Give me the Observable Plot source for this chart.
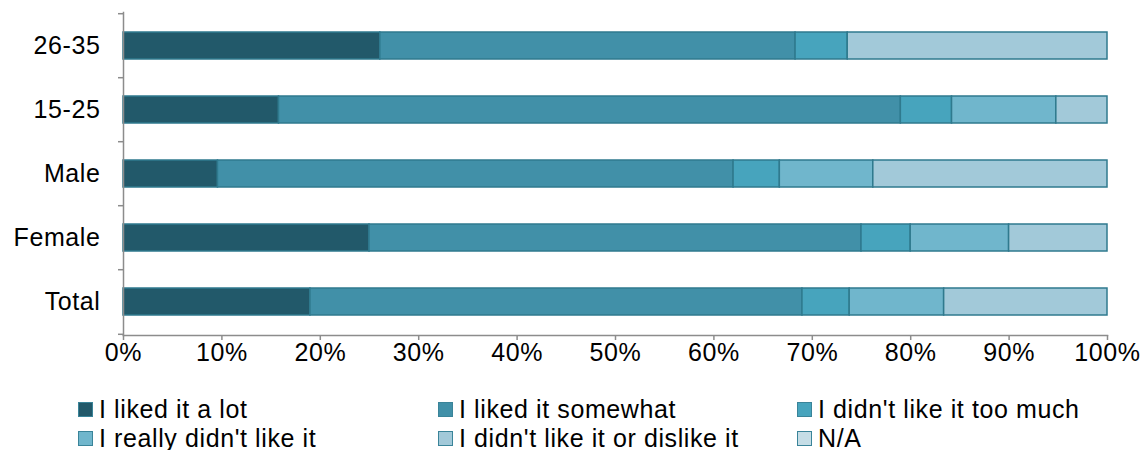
<!DOCTYPE html>
<html>
<head>
<meta charset="utf-8">
<script src="https://cdn.jsdelivr.net/npm/d3@7"></script>
<script src="https://cdn.jsdelivr.net/npm/@observablehq/plot@0.6"></script>
<style>
  html, body { margin: 0; padding: 0; background: #fff; }
  body { width: 1146px; height: 450px; font-family: "Liberation Sans", Arial, sans-serif; }
  #chart svg { display: block; }
  .legend { position: relative; height: 70px; font-size: 25px; letter-spacing: 0.6px; color: #000; }
  .item { position: absolute; display: flex; align-items: center; white-space: nowrap; line-height: 24px; height: 24px; }
  .sw { width: 15px; height: 15px; box-sizing: border-box; border: 1.5px solid #3a8499; margin-right: 6px; }
</style>
</head>
<body>
<div id="chart"></div>
<div class="legend" id="legend"></div>
<script>
const categories = ["26-35", "15-25", "Male", "Female", "Total"];
const series = ["I liked it a lot", "I liked it somewhat", "I didn't like it too much", "I really didn't like it", "I didn't like it or dislike it", "N/A"];
const colors = ["#22596a", "#4190a8", "#47a4bd", "#70b6cc", "#a2c9d9", "#c5dde6"];
// values in % per category, in series order
const v2635   = [26.1, 42.2, 5.3, 0.0, 26.4, 0];
const v1525   = [15.8, 63.2, 5.2, 10.6, 5.2, 0];
const vMale   = [9.6, 52.4, 4.7, 9.5, 23.8, 0];
const vFemale = [25.0, 50.0, 5.0, 10.0, 10.0, 0];
const vTotal  = [19.0, 50.0, 4.8, 9.6, 16.6, 0];
const xTicks = [0, 0.1, 0.2, 0.3, 0.4, 0.5, 0.6, 0.7, 0.8, 0.9, 1];

const valuesByCat = {"26-35": v2635, "15-25": v1525, "Male": vMale, "Female": vFemale, "Total": vTotal};
const data = [];
for (const c of categories) {
  valuesByCat[c].forEach((v, i) => data.push({cat: c, series: series[i], value: v / 100}));
}

const axisColor = "#8c8c8c";
const fs = 25;
const chart = Plot.plot({
  width: 1146,
  height: 380,
  marginLeft: 123,
  marginRight: 39,
  marginTop: 12,
  marginBottom: 45,
  style: {fontFamily: "'Liberation Sans', Arial, sans-serif", fontSize: "25px", letterSpacing: "0.6px", color: "#000", background: "#fff"},
  x: {domain: [0, 1]},
  y: {domain: categories, paddingInner: 0.58, paddingOuter: 0.29},
  color: {domain: series, range: colors},
  marks: [
    Plot.barX(data, Plot.stackX({order: series, x: "value", y: "cat", fill: "series", stroke: "#2f7a8e", strokeWidth: 1.5})),
    Plot.axisX({ticks: xTicks, tickFormat: d3.format(".0%"), tickSize: 5, tickPadding: 3, fontSize: fs, stroke: axisColor, strokeWidth: 1.5, color: "#000", label: null}),
    Plot.axisY({tickSize: 0, tickPadding: 23, fontSize: fs, label: null, color: "#000"}),
    Plot.axisY({tickSize: 5, tickFormat: null, dy: -32.3, stroke: axisColor, strokeWidth: 1.5, label: null}),
    Plot.axisY(["Total"], {tickSize: 5, tickFormat: null, dy: 32.3, stroke: axisColor, strokeWidth: 1.5, label: null}),
    Plot.frame({anchor: "left", stroke: axisColor, strokeWidth: 1.5}),
    Plot.frame({anchor: "bottom", stroke: axisColor, strokeWidth: 1.5})
  ]
});
document.getElementById("chart").appendChild(chart);

// legend
const legend = document.getElementById("legend");
const cols = [78, 438, 797];
const rows = [17, 46];
series.forEach((s, i) => {
  const el = document.createElement("div");
  el.className = "item";
  el.style.left = cols[i % 3] + "px";
  el.style.top = rows[Math.floor(i / 3)] + "px";
  el.innerHTML = `<div class="sw" style="background:${colors[i]}"></div><span>${s}</span>`;
  legend.appendChild(el);
});
</script>
</body>
</html>
